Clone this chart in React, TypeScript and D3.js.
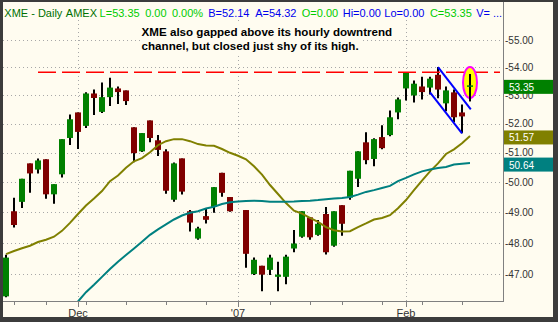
import React from 'react';
import * as d3 from 'd3';

// ---------- DATA ----------
const dates = [
  '2006-11-17',
  '2006-11-20', '2006-11-21', '2006-11-22', '2006-11-24',
  '2006-11-27', '2006-11-28', '2006-11-29', '2006-11-30', '2006-12-01',
  '2006-12-04', '2006-12-05', '2006-12-06', '2006-12-07', '2006-12-08',
  '2006-12-11', '2006-12-12', '2006-12-13', '2006-12-14', '2006-12-15',
  '2006-12-18', '2006-12-19', '2006-12-20', '2006-12-21', '2006-12-22',
  '2006-12-26', '2006-12-27', '2006-12-28', '2006-12-29',
  '2007-01-02', '2007-01-03', '2007-01-04', '2007-01-05',
  '2007-01-08', '2007-01-09', '2007-01-10', '2007-01-11', '2007-01-12',
  '2007-01-16', '2007-01-17', '2007-01-18', '2007-01-19',
  '2007-01-22', '2007-01-23', '2007-01-24', '2007-01-25', '2007-01-26',
  '2007-01-29', '2007-01-30', '2007-01-31', '2007-02-01', '2007-02-02',
  '2007-02-05', '2007-02-06', '2007-02-07', '2007-02-08', '2007-02-09',
  '2007-02-12', '2007-02-13',
];

const open = [
  46.31, 49.03, 49.34, 50.63, 50.42, 50.77, 49.59, 50.26, 51.50, 52.39,
  51.92, 53.06, 52.41, 52.93, 53.24, 53.17, 51.87, 51.04, 52.11, 51.42,
  51.04, 49.41, 50.80, 49.03, 48.14, 48.87, 49.17, 50.31, 49.50, null,
  49.07, 47.01, 47.27, 47.14, 46.92, 46.92, 47.82, 48.20, 48.83, 48.26,
  48.94, 47.91, 49.23, 49.48, 50.11, 51.35, 50.78, 51.53, 51.60, 52.39,
  53.24, 52.99, 53.31, 53.27, 53.73, 52.71, 53.10, 52.39, 53.30,
];
const high = [
  47.62, 49.48, 50.11, 50.63, 50.80, 50.77, 49.93, 51.46, 52.32, 52.39,
  53.10, 53.20, 53.45, 53.62, 53.31, 53.17, 51.87, 51.67, 52.11, 51.60,
  51.11, 50.66, 50.80, 49.07, 48.52, 49.12, 49.83, 50.31, 49.50, null,
  49.07, 47.53, 47.27, 47.62, 47.40, 47.62, 48.42, 49.03, 48.83, 48.74,
  49.17, 49.03, 49.23, 50.38, 51.04, 51.70, 51.49, 51.94, 52.46, 52.92,
  53.80, 53.52, 53.66, 53.66, 54.01, 53.31, 53.20, 52.67, 53.76,
];
const low = [
  46.28, 48.50, 49.14, 49.64, 50.29, 49.44, 49.28, 50.15, 51.26, 51.12,
  51.85, 52.30, 52.37, 52.62, 52.69, 52.65, 50.67, 51.02, 51.35, 50.88,
  49.61, 49.34, 49.58, 48.37, 48.10, 48.63, 48.98, 49.51, 49.01, null,
  47.21, 46.98, 46.47, 46.98, 46.47, 46.69, 47.70, 48.17, 48.10, 48.23,
  47.63, 47.88, 48.23, 49.41, 49.83, 50.60, 50.53, 51.11, 51.56, 52.15,
  52.81, 52.74, 52.85, 53.02, 52.89, 52.43, 52.05, 51.66, 52.78,
];
const close = [
  47.53, 48.58, 50.11, 50.29, 50.73, 49.59, 49.93, 51.46, 52.15, 51.71,
  53.06, 52.90, 52.93, 53.27, 53.11, 52.79, 50.98, 51.67, 51.50, 51.09,
  49.71, 50.63, 49.68, 48.66, 48.47, 48.75, 49.83, 49.64, 49.03, null,
  47.65, 47.46, 46.99, 47.53, 46.99, 47.56, 47.98, 49.03, 48.18, 48.62,
  47.70, 49.03, 48.62, 50.38, 51.04, 50.74, 51.46, 51.15, 52.22, 52.85,
  53.80, 53.41, 53.11, 53.59, 53.20, 53.17, 52.22, 52.25, 53.35,
];

// moving averages (olive = short MA, teal = long MA)
const maShort = [
  47.64, 47.74, 47.83, 47.91, 48.03, 48.10, 48.20, 48.39, 48.65, 48.94,
  49.22, 49.45, 49.70, 50.03, 50.22, 50.48, 50.70, 50.81, 51.01, 51.25,
  51.39, 51.46, 51.46, 51.39, 51.29, 51.24, 51.23, 51.12, 50.99, 50.89,
  50.77, 50.53, 50.25, 49.90, 49.60, 49.30, 49.05, 48.95, 48.81, 48.68,
  48.51, 48.41, 48.37, 48.38, 48.51, 48.63, 48.76, 48.81, 48.90, 49.13,
  49.40, 49.73, 50.05, 50.36, 50.63, 50.95, 51.11, 51.32, 51.57,
];
const maLong = [
  null, null, null, null, null, null, null, null, 45.88, 46.15,
  46.44, 46.67, 46.92, 47.17, 47.40, 47.61, 47.82, 48.04, 48.26, 48.44,
  48.60, 48.76, 48.89, 48.98, 49.03, 49.12, 49.18, 49.27, 49.33, 49.35,
  49.37, 49.38, 49.37, 49.34, 49.34, 49.34, 49.35, 49.37, 49.38, 49.40,
  49.43, 49.45, 49.47, 49.50, 49.58, 49.67, 49.73, 49.80, 49.87, 50.03,
  50.14, 50.26, 50.36, 50.42, 50.47, 50.51, 50.59, 50.62, 50.64,
];

const yTicks = [47, 48, 49, 50, 51, 52, 53, 54, 55];

const resistanceLevel = 53.82;
const resistanceSpan = [4, 61.75];
const channelUpper = [[54, 54.01], [58.1, 52.5]];
const channelLower = [[53, 53.1], [57, 51.66]];
const highlightIndex = 58;
const highlightPrice = 53.45;

const headerTexts = [
  'XME - Daily', 'AMEX', 'L=53.35', '0.00', '0.00%', 'B=52.14', 'A=54.32',
  'O=0.00', 'Hi=0.00', 'Lo=0.00', 'C=53.35', 'V= ...',
];
const headerColors = [
  '#007000', '#007000', '#00CC00', '#00CC00', '#00CC00', '#0000EE', '#0000EE',
  '#00CC00', '#0000EE', '#0000EE', '#00CC00', '#0000EE',
];
const annotationLines = [
  'XME also gapped above its hourly downtrend',
  'channel, but closed just shy of its high.',
];
const lastValues = [53.35, 51.57, 50.64];
const lastValueColors = ['#008000', '#808000', '#008080'];

// ---------- LAYOUT ----------
const W = 558;
const H = 322;
const P = { left: 3, right: 503, top: 20, bottom: 301 };
const BG = '#FFFCF0';
const FONT = '"Liberation Sans", Arial, sans-serif';
const headerX = [4.3, 65.8, 99.6, 145.2, 171.9, 208.2, 255.2, 301.8, 342.7, 384.3, 429.9, 476.2];

export default function App() {
  const x = d3.scaleLinear().domain([0, 58]).range([6, 470]);
  const y = d3.scaleLog().domain([47, 54]).range([274.3, 67.3]);

  const parse = d3.timeParse('%Y-%m-%d');
  const parsed = dates.map((d) => parse(d) as Date);

  const minorTicks: number[] = [];
  const majorTicks: { i: number; label: string }[] = [];
  for (let i = 1; i < parsed.length; i++) {
    const a = parsed[i - 1];
    const b = parsed[i];
    if (a.getMonth() !== b.getMonth()) {
      const label = b.getMonth() === 0 ? "'" + d3.timeFormat('%y')(b) : d3.timeFormat('%b')(b);
      majorTicks.push({ i, label });
    } else if (b.getDay() < a.getDay() || (+b - +a) > 3.5 * 864e5) {
      minorTicks.push(i);
    }
  }

  const lineGen = d3
    .line<number | null>()
    .defined((d) => d != null)
    .x((_, i) => x(i))
    .y((d) => y(d as number));

  const crisp = (v: number) => Math.round(v) + 0.5;

  return (
    <svg width={W} height={H} style={{ position: 'absolute', left: 0, top: 0 }} fontFamily={FONT}>
      <defs>
        <clipPath id="plotClip">
          <rect x={P.left} y={P.top} width={P.right - P.left} height={P.bottom - P.top} />
        </clipPath>
      </defs>
      <rect x={0} y={0} width={W} height={H} fill="#3C3C3C" />
      <rect x={3} y={2} width={550} height={315} fill={BG} />

      {/* grid */}
      {yTicks.map((t) => (
        <line key={'gy' + t} x1={P.left} x2={P.right} y1={crisp(y(t))} y2={crisp(y(t))}
          stroke="#A8A8A8" strokeDasharray="1 3" />
      ))}
      {majorTicks.map((m) => (
        <line key={'gx' + m.i} x1={x(m.i) + 0.5} x2={x(m.i) + 0.5} y1={P.top} y2={P.bottom}
          stroke="#A8A8A8" strokeDasharray="1 3" />
      ))}

      {/* annotation backgrounds */}
      <rect x={140} y={24} width={255} height={15} fill={BG} />
      <rect x={140} y={39} width={220} height={15} fill={BG} />

      <g clipPath="url(#plotClip)">
        {open.map((o, i) => {
          if (o == null) return null;
          const c = close[i] as number;
          const cx = x(i);
          const yo = y(o);
          const yc = y(c);
          const top = Math.min(yo, yc);
          const h = Math.max(1.5, Math.abs(yo - yc));
          return (
            <g key={'c' + i}>
              <line x1={cx} x2={cx} y1={y(high[i] as number)} y2={y(low[i] as number)} stroke="#000" strokeWidth={2} />
              <rect x={cx - 3} y={top} width={6} height={h} fill={c >= o ? '#008000' : '#800000'} />
            </g>
          );
        })}
        <path d={lineGen(maShort) || ''} fill="none" stroke="#808000" strokeWidth={2} />
        <path d={lineGen(maLong) || ''} fill="none" stroke="#008080" strokeWidth={2} />
      </g>

      {/* resistance */}
      <line x1={x(resistanceSpan[0])} x2={x(resistanceSpan[1])} y1={y(resistanceLevel)} y2={y(resistanceLevel)}
        stroke="#FF0000" strokeWidth={1.6} strokeDasharray="18 6" />
      {/* channel */}
      {[channelUpper, channelLower].map((seg, k) => (
        <line key={'ch' + k} x1={x(seg[0][0])} y1={y(seg[0][1])} x2={x(seg[1][0])} y2={y(seg[1][1])}
          stroke="#0000FF" strokeWidth={2} />
      ))}
      {/* highlight */}
      <ellipse cx={x(highlightIndex)} cy={y(highlightPrice)} rx={7} ry={15.5} fill="#FFFF00" stroke="#FF00FF" strokeWidth={2} />
      {(() => {
        const i = highlightIndex;
        const o = open[i] as number;
        const c = close[i] as number;
        const cx = x(i);
        return (
          <g>
            <line x1={cx} x2={cx} y1={y(high[i] as number)} y2={y(low[i] as number)} stroke="#000" strokeWidth={2} />
            <rect x={cx - 3} y={Math.min(y(o), y(c))} width={6} height={Math.max(1.5, Math.abs(y(o) - y(c)))} fill="#008000" />
          </g>
        );
      })()}

      {/* axes */}
      <line x1={P.left} x2={P.right} y1={P.bottom + 0.5} y2={P.bottom + 0.5} stroke="#808080" />
      <line x1={P.right + 0.5} x2={P.right + 0.5} y1={2} y2={P.bottom + 1} stroke="#808080" />
      {minorTicks.map((i) => (
        <line key={'mt' + i} x1={x(i) + 0.5} x2={x(i) + 0.5} y1={P.bottom} y2={P.bottom + 4} stroke="#808080" />
      ))}
      {majorTicks.map((m) => (
        <g key={'Mt' + m.i}>
          <line x1={x(m.i) + 0.5} x2={x(m.i) + 0.5} y1={P.bottom} y2={P.bottom + 6} stroke="#808080" />
          <text x={x(m.i)} y={317} textAnchor="middle" fontSize={11} fill="#333">{m.label}</text>
        </g>
      ))}
      {yTicks.map((t) => (
        <text key={'yl' + t} x={505} y={y(t) + 3.6} fontSize={10} fill="#333">{'-' + t.toFixed(2)}</text>
      ))}
      {lastValues.map((v, k) => (
        <g key={'lv' + k}>
          <rect x={504} y={y(v) - 5.5} width={49} height={14} fill={lastValueColors[k]} />
          <text x={509} y={y(v) + 5.5} fontSize={10} fill="#FFFFFF">{v.toFixed(2)}</text>
        </g>
      ))}

      {/* header */}
      {headerTexts.map((t, k) => (
        <text key={'h' + k} x={headerX[k]} y={17} fontSize={11} fill={headerColors[k]}>{t}</text>
      ))}
      {/* annotation */}
      {annotationLines.map((t, k) => (
        <text key={'a' + k} x={141.6} y={35.5 + k * 14.5} fontSize={11.6} fontWeight="bold" fill="#000">{t}</text>
      ))}
    </svg>
  );
}
